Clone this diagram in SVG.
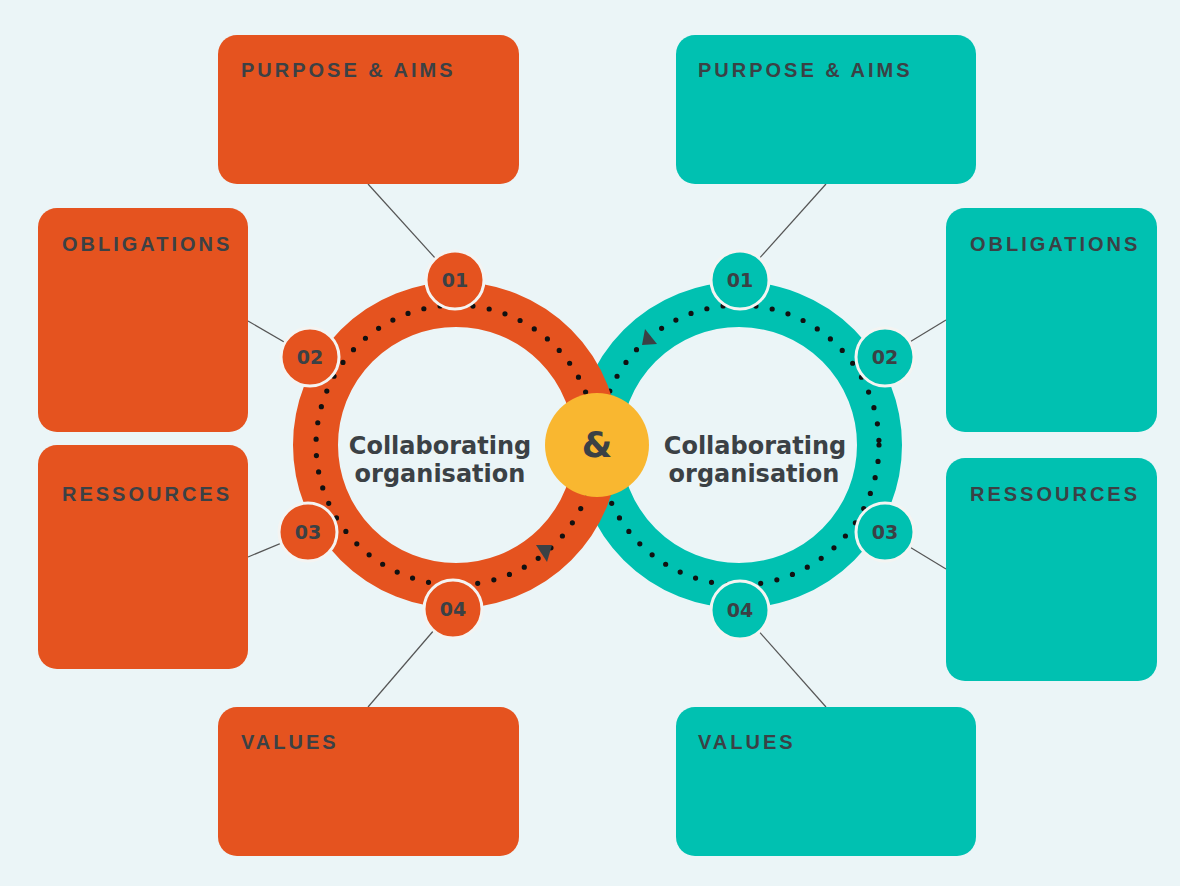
<svg xmlns="http://www.w3.org/2000/svg" width="1180" height="886" viewBox="0 0 1180 886">
<style>
.bo{fill:#E5531F}
.bt{fill:#00C1B1}
.lbl{font-family:"Liberation Sans",Arial,sans-serif;font-weight:bold;font-size:20px;letter-spacing:3px;fill:#3B4145}
.num{font-family:"DejaVu Sans","Liberation Sans",sans-serif;font-weight:bold;font-size:19px;fill:#3B4145;text-anchor:middle}
.ctr{font-family:"DejaVu Sans","Liberation Sans",sans-serif;font-weight:bold;font-size:24px;fill:#3B4145;text-anchor:middle}
.con{stroke:#555;stroke-width:1.2;fill:none}
.dots{fill:none;stroke:#111;stroke-width:5.2;stroke-linecap:round;stroke-dasharray:0 16.5}
.badge{stroke:#F4F4F2;stroke-width:3}
</style>
<rect width="1180" height="886" fill="#EBF5F7"/>
<g id="connectors">
<line class="con" x1="368" y1="184" x2="455" y2="280"/>
<line class="con" x1="248" y1="321" x2="310" y2="357"/>
<line class="con" x1="248" y1="557" x2="308" y2="532"/>
<line class="con" x1="368" y1="707" x2="453" y2="608"/>
<line class="con" x1="826" y1="184" x2="740" y2="280"/>
<line class="con" x1="946" y1="320" x2="885" y2="357"/>
<line class="con" x1="946" y1="569" x2="885" y2="532"/>
<line class="con" x1="826" y1="707" x2="740" y2="610"/>
</g>
<g id="box-left-purpose"><rect class="bo" x="218" y="35" width="301" height="149" rx="19"/><text class="lbl" x="241" y="77">PURPOSE &amp; AIMS</text></g>
<g id="box-left-obligations"><rect class="bo" x="38" y="208" width="210" height="224" rx="19"/><text class="lbl" x="62" y="251">OBLIGATIONS</text></g>
<g id="box-left-ressources"><rect class="bo" x="38" y="445" width="210" height="224" rx="19"/><text class="lbl" x="62" y="501">RESSOURCES</text></g>
<g id="box-left-values"><rect class="bo" x="218" y="707" width="301" height="149" rx="19"/><text class="lbl" x="241" y="749">VALUES</text></g>
<g id="box-right-purpose"><rect class="bt" x="676" y="35" width="300" height="149" rx="19"/><text class="lbl" x="698" y="77">PURPOSE &amp; AIMS</text></g>
<g id="box-right-obligations"><rect class="bt" x="946" y="208" width="211" height="224" rx="19"/><text class="lbl" x="970" y="251">OBLIGATIONS</text></g>
<g id="box-right-ressources"><rect class="bt" x="946" y="458" width="211" height="223" rx="19"/><text class="lbl" x="970" y="501">RESSOURCES</text></g>
<g id="box-right-values"><rect class="bt" x="676" y="707" width="300" height="149" rx="19"/><text class="lbl" x="698" y="749">VALUES</text></g>
<g id="ring-right">
<circle cx="739" cy="445" r="140.5" fill="none" stroke="#00C1B1" stroke-width="45"/>
<circle class="dots" cx="739" cy="445" r="140"/>
<polygon points="645,329 657,344 642,345" fill="#3B4145"/>
<text class="ctr" x="755" y="454">Collaborating</text>
<text class="ctr" x="754" y="482">organisation</text>
</g>
<g id="ring-left">
<circle cx="456" cy="445" r="140.5" fill="none" stroke="#E5531F" stroke-width="45"/>
<circle class="dots" cx="456" cy="445" r="140"/>
<polygon points="536,545 552,545 547,562" fill="#3B4145"/>
<text class="ctr" x="440" y="454">Collaborating</text>
<text class="ctr" x="440" y="482">organisation</text>
</g>
<g id="amp"><circle cx="597" cy="445" r="52" fill="#F9B730"/><text x="597" y="457" font-family="DejaVu Sans, sans-serif" font-weight="bold" font-size="35" fill="#3B4145" text-anchor="middle">&amp;</text></g>
<g id="badges-left">
<g id="bl1"><circle class="bo badge" cx="455" cy="280" r="29"/><text class="num" x="455" y="287">01</text></g>
<g id="bl2"><circle class="bo badge" cx="310" cy="357" r="29"/><text class="num" x="310" y="364">02</text></g>
<g id="bl3"><circle class="bo badge" cx="308" cy="532" r="29"/><text class="num" x="308" y="539">03</text></g>
<g id="bl4"><circle class="bo badge" cx="453" cy="609" r="29"/><text class="num" x="453" y="616">04</text></g>
</g>
<g id="badges-right">
<g id="br1"><circle class="bt badge" cx="740" cy="280" r="29"/><text class="num" x="740" y="287">01</text></g>
<g id="br2"><circle class="bt badge" cx="885" cy="357" r="29"/><text class="num" x="885" y="364">02</text></g>
<g id="br3"><circle class="bt badge" cx="885" cy="532" r="29"/><text class="num" x="885" y="539">03</text></g>
<g id="br4"><circle class="bt badge" cx="740" cy="610" r="29"/><text class="num" x="740" y="617">04</text></g>
</g>
</svg>
